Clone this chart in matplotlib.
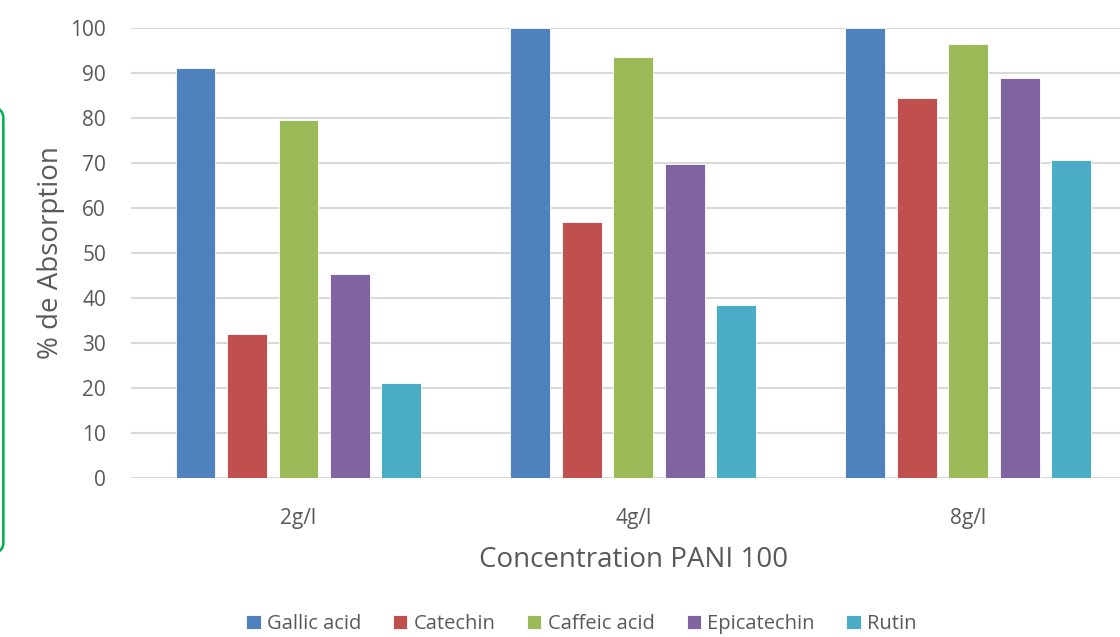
import numpy as np
import matplotlib
matplotlib.use("Agg")
import matplotlib.pyplot as plt
from matplotlib.patches import FancyBboxPatch

categories = ["2g/l", "4g/l", "8g/l"]
series = ["Gallic acid", "Catechin", "Caffeic acid", "Epicatechin", "Rutin"]
gallic = [91.1, 100, 100]
catechin = [32.0, 56.9, 84.4]
caffeic = [79.6, 93.6, 96.4]
epicatechin = [45.3, 69.8, 88.9]
rutin = [21.1, 38.4, 70.7]
colors = ["#4F81BD", "#C0504D", "#9BBB59", "#8064A2", "#4BACC6"]

plt.rcParams["font.family"] = ["Open Sans", "DejaVu Sans"]

fig = plt.figure(figsize=(11.2, 6.37), dpi=100)
ax = fig.add_axes([0.117, 0.25, 0.897, 0.706])

x = np.arange(len(categories))
pitch, width = 0.1537, 0.119
for i, (name, vals) in enumerate(zip(series, [gallic, catechin, caffeic, epicatechin, rutin])):
    ax.bar(x + (i - 2) * pitch, vals, width, color=colors[i], label=name,
           edgecolor="white", linewidth=0.6, zorder=3)

ax.set_xlim(-0.5, 2.5)
ax.set_ylim(0, 100)
ax.set_yticks(range(0, 101, 10))
ax.set_xticks(x)
ax.set_xticklabels(categories)
ax.grid(axis="y", color="#d9d9d9", lw=1.5, zorder=0)
ax.set_axisbelow(True)
for s in ax.spines.values():
    s.set_visible(False)
ax.tick_params(axis="both", length=0, labelsize=15, colors="#595959")
ax.tick_params(axis="y", pad=18)
ax.tick_params(axis="x", pad=22)
ax.set_ylabel("% de Absorption", fontsize=20, color="#595959", labelpad=4)
ax.set_xlabel("Concentration PANI 100", fontsize=20, color="#595959", labelpad=12)

fig.legend(loc="center", bbox_to_anchor=(0.519, 0.02), ncol=5, frameon=False,
           fontsize=14.5, handlelength=0.7, handleheight=0.7, handletextpad=0.3,
           columnspacing=1.6, labelcolor="#595959")

# green rounded box edge visible on the left
box = FancyBboxPatch((-0.1, 0.128), 0.103, 0.707, boxstyle="round,pad=0,rounding_size=0.02",
                     transform=fig.transFigure, fill=False, edgecolor="#00B050", lw=1.8,
                     clip_on=False)
fig.patches.append(box)

fig.savefig("out.png", dpi=100)
